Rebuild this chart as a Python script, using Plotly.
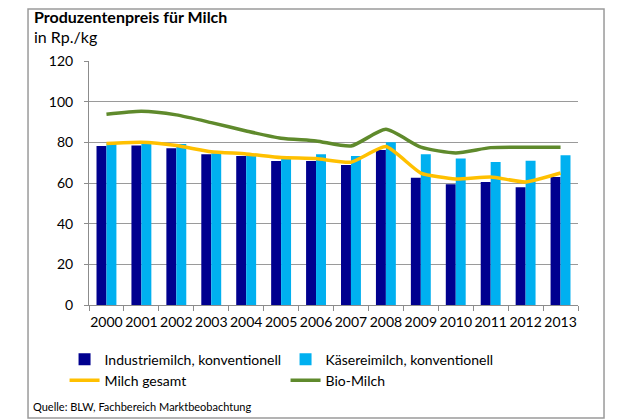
import plotly.graph_objects as go

years = ["2000", "2001", "2002", "2003", "2004", "2005", "2006",
         "2007", "2008", "2009", "2010", "2011", "2012", "2013"]
industriemilch = [78.2, 78.5, 77.1, 74.1, 73.3, 70.8, 70.8,
                  68.9, 76.2, 62.6, 59.4, 60.5, 57.9, 63.0]
kaesereimilch = [79.4, 79.2, 79.2, 74.6, 73.6, 71.8, 74.1,
                 73.3, 80.0, 74.1, 72.1, 70.3, 71.0, 73.6]
milch_gesamt = [79.4, 80.0, 78.4, 75.4, 74.3, 72.5, 72.0,
                70.2, 77.9, 64.9, 62.0, 63.0, 60.5, 64.9]
bio_milch = [93.8, 95.3, 93.5, 89.7, 85.6, 82.0, 80.7,
             78.2, 86.4, 77.6, 74.8, 77.4, 77.6, 77.6]
y_ticks = [0, 20, 40, 60, 80, 100, 120]

FONT = "Lato"
fig = go.Figure()
fig.add_trace(go.Bar(x=years, y=industriemilch, name="Industriemilch, konventionell",
                     marker=dict(color="#00008F", line=dict(width=0))))
fig.add_trace(go.Bar(x=years, y=kaesereimilch, name="Käsereimilch, konventionell",
                     marker=dict(color="#00B0F0", line=dict(width=0))))
fig.add_trace(go.Scatter(x=years, y=milch_gesamt, name="Milch gesamt", mode="lines",
                         line=dict(color="#FFC000", width=3.5, shape="spline", smoothing=0.5)))
fig.add_trace(go.Scatter(x=years, y=bio_milch, name="Bio-Milch", mode="lines",
                         line=dict(color="#5F8A2C", width=3.5, shape="spline", smoothing=0.6)))

fig.update_layout(
    width=612, height=412,
    margin=dict(l=81, r=42, t=53, b=115, autoexpand=False),
    paper_bgcolor="white", plot_bgcolor="white",
    font=dict(family=FONT, size=14, color="#000000"),
    barmode="group", bargap=0.43, bargroupgap=0,
    showlegend=True,
    legend=dict(orientation="h", x=-0.05, y=-0.158, xanchor="left", yanchor="top",
                entrywidth=176, entrywidthmode="pixels",
                font=dict(family=FONT, size=14), traceorder="normal",
                bgcolor="rgba(0,0,0,0)"),
    xaxis=dict(type="category", showgrid=False, showline=True, linecolor="#8C8C8C",
               linewidth=1, ticks="outside", tickson="boundaries", ticklen=5,
               tickcolor="#8C8C8C", tickangle=0, automargin=False,
               ticklabelstandoff=4,
               tickfont=dict(family=FONT, size=14)),
    yaxis=dict(range=[0, 120], tickvals=y_ticks, showgrid=True, gridcolor="#9A9A9A",
               gridwidth=1, showline=True, linecolor="#8C8C8C", linewidth=1,
               ticks="outside", ticklen=4, tickcolor="#8C8C8C", zeroline=False,
               automargin=False,
               tickfont=dict(family=FONT, size=14), ticklabelstandoff=8),
)

fig.add_shape(type="rect", xref="paper", yref="paper", x0=-0.1247, x1=1.0532,
              y0=-0.463, y1=1.213, line=dict(color="#9A9A9A", width=1.5), layer="above")

fig.add_annotation(text="<b>Produzentenpreis für Milch</b>", xref="paper", yref="paper",
                   x=-0.115, y=1.184, xanchor="left", yanchor="middle", showarrow=False,
                   borderpad=0, font=dict(family=FONT, size=16, color="#000"))
fig.add_annotation(text="in Rp./kg", xref="paper", yref="paper",
                   x=-0.115, y=1.102, xanchor="left", yanchor="middle", showarrow=False,
                   borderpad=0, font=dict(family=FONT, size=16, color="#000"))
fig.add_annotation(text="Quelle: BLW, Fachbereich Marktbeobachtung", xref="paper", yref="paper",
                   x=-0.118, y=-0.418, xanchor="left", yanchor="middle", showarrow=False,
                   font=dict(family=FONT, size=11, color="#000"))

fig.write_html("out.html")
